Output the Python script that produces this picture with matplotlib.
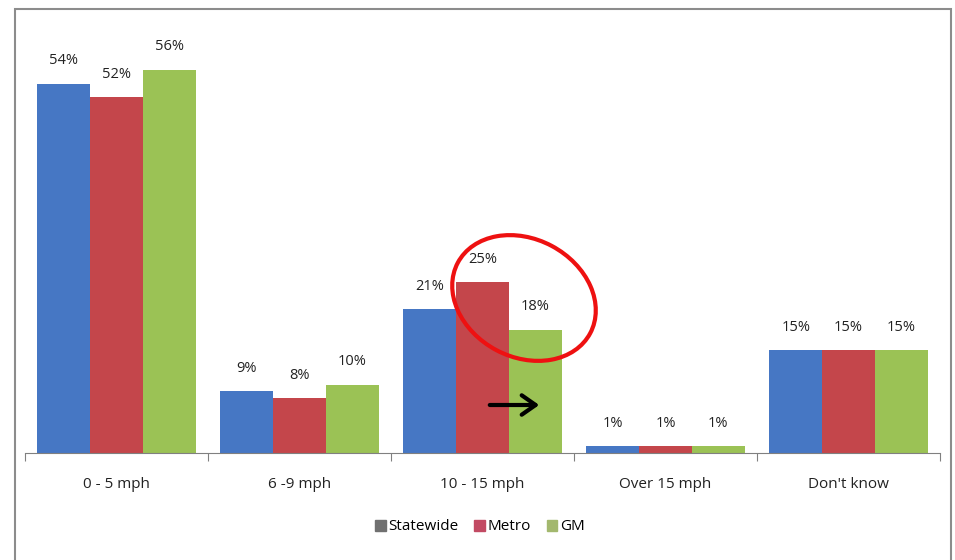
import matplotlib
matplotlib.use('Agg')
import matplotlib.pyplot as plt
from matplotlib.patches import Rectangle, Ellipse, Patch
import numpy as np

categories = ['0 - 5 mph', '6 -9 mph', '10 - 15 mph', 'Over 15 mph', "Don't know"]
statewide = [54, 9, 21, 1, 15]
metro = [52, 8, 25, 1, 15]
gm = [56, 10, 18, 1, 15]
series_names = ['Statewide', 'Metro', 'GM']

plt.rcParams['font.family'] = ['Open Sans', 'DejaVu Sans']

W, H = 955, 560
fig = plt.figure(figsize=(W / 100, H / 100), dpi=100)
ax = fig.add_axes([25 / W, 1 - 453 / H, 915 / W, (453 - 22) / H])

x = np.arange(len(categories))
bw = 0.288
colors = ['#4677C4', '#C4464B', '#9BC255']
for i, (vals, c) in enumerate(zip([statewide, metro, gm], colors)):
    bars = ax.bar(x + (i - 1) * bw, vals, bw, color=c, edgecolor='none')
    for b, v in zip(bars, vals):
        ax.annotate(f'{v}%', (b.get_x() + b.get_width() / 2, v),
                    xytext=(0, 16.5), textcoords='offset points',
                    ha='center', va='center', fontsize=10.5, color='#222222')

ax.set_xlim(-0.5, 4.5)
ax.set_ylim(0, 63)
ax.set_yticks([])
for s in ['top', 'right', 'left']:
    ax.spines[s].set_visible(False)
ax.spines['bottom'].set_color('#808080')
ax.set_xticks(np.arange(-0.5, 5, 1))
ax.set_xticklabels([])
ax.tick_params(axis='x', which='major', direction='out', length=6, color='#808080')
ax.set_xticks(x, minor=True)
ax.set_xticklabels(categories, minor=True, fontsize=11, color='#222222')
ax.tick_params(axis='x', which='minor', length=0, pad=17)

# chart frame
fig.patches.append(Rectangle((15 / W, -0.05), (951 - 15) / W, 1.05 - 9 / H,
                             transform=fig.transFigure, fill=False,
                             edgecolor='#8c8c8c', linewidth=1.5))

# red circle highlight
fig.patches.append(Ellipse((5.24, (H - 298) / 100), 1.50, 1.18, angle=-28,
                           transform=fig.dpi_scale_trans, fill=False,
                           edgecolor='#EE1111', linewidth=3))

# arrow
ax.annotate('', xy=(542, H - 405), xytext=(487, H - 405),
            xycoords='figure pixels', textcoords='figure pixels',
            arrowprops=dict(arrowstyle='->, head_length=0.5, head_width=0.35',
                            color='black', lw=3, mutation_scale=20))

handles = [Patch(color=c) for c in ['#707070', '#C24A63', '#A3B86E']]
fig.legend(handles, series_names, loc='center', bbox_to_anchor=(480 / W, 1 - 527 / H),
           ncol=3, frameon=False, fontsize=11, handlelength=0.7, handleheight=0.7,
           handletextpad=0.2, columnspacing=1.0)

fig.savefig('out.png', dpi=100)
